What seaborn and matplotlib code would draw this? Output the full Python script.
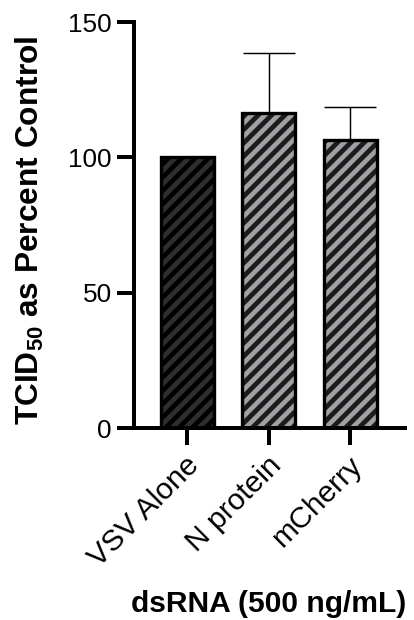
import numpy as np
import pandas as pd
import matplotlib
matplotlib.use("Agg")
import matplotlib.pyplot as plt
import matplotlib.transforms as mtransforms
import seaborn as sns

# data
groups = ["VSV Alone", "N protein", "mCherry"]
means = [100.0, 116.5, 106.4]
upper_err = [0.0, 21.9, 12.3]
fills = ["#000000", "#a1a1a5", "#a1a1a5"]
stripes = ["#2e2e31", "#1c1c1c", "#1c1c1c"]

sns.set_style("ticks")
plt.rcParams["font.family"] = ["Liberation Sans", "DejaVu Sans"]
plt.rcParams["text.color"] = "black"
plt.rcParams["mathtext.fontset"] = "custom"
plt.rcParams["mathtext.rm"] = "Liberation Sans:bold"
plt.rcParams["mathtext.default"] = "rm"
plt.rcParams["hatch.linewidth"] = 4.3

DPI = 80
fig = plt.figure(figsize=(414 / DPI, 620 / DPI), dpi=DPI)
ax = fig.add_axes([134 / 414, 1 - 428 / 620, (405 - 134) / 414, (428 - 22) / 620])

df = pd.DataFrame({"group": groups, "value": means})
sns.barplot(data=df, x="group", y="value", ax=ax, width=0.65,
            errorbar=None, color="white", linewidth=0)

for bar, fc, sc in zip(ax.patches, fills, stripes):
    bar.set_facecolor(fc)
    bar.set_edgecolor(sc)
    bar.set_hatch("//")
    bar.set_linewidth(0)
    # outline on top
    ax.add_patch(plt.Rectangle(bar.get_xy(), bar.get_width(), bar.get_height(),
                               fill=False, edgecolor="black", linewidth=3, zorder=3))

x = np.arange(len(groups))
ax.errorbar(x, means, yerr=[np.zeros(len(groups)), upper_err], fmt="none",
            ecolor="black", elinewidth=1.3, capsize=23, capthick=1.3, zorder=1)

ax.set_ylim(0, 150)
ax.set_yticks([0, 50, 100, 150])
ax.set_xlim(-0.65, 2.67)
ax.set_xlabel("")
ax.set_ylabel("")
sns.despine(ax=ax)
for s in ["left", "bottom"]:
    ax.spines[s].set_linewidth(3.6)
    ax.spines[s].set_color("black")
ax.tick_params(axis="both", width=3.6, length=15, color="black",
               labelcolor="black")
ax.tick_params(axis="y", pad=5, labelsize=23.5)
ax.tick_params(axis="x", pad=15, labelsize=27)
shift = mtransforms.ScaledTranslation(8 / DPI, 0, fig.dpi_scale_trans)
for lab in ax.get_xticklabels():
    lab.set_rotation(45)
    lab.set_ha("right")
    lab.set_va("center")
    lab.set_rotation_mode("anchor")
    lab.set_transform(lab.get_transform() + shift)

fig.text(29.5 / 414, 1 - 230 / 620, "TCID$_{50}$ as Percent Control", rotation=90,
         ha="center", va="center", fontsize=28.5, fontweight="bold")
fig.text(269 / 414, 1 - 612 / 620, "dsRNA (500 ng/mL)", ha="center",
         va="baseline", fontsize=27, fontweight="bold")

fig.savefig("out.png", dpi=DPI, facecolor="white")
